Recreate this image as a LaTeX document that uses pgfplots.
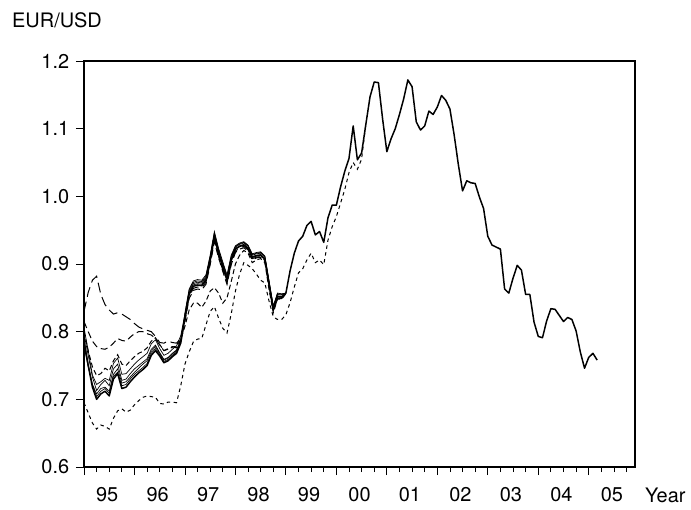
\documentclass[border=0pt]{standalone}
\usepackage{fontspec}
\setmainfont{TeX Gyre Heros}
\usepackage{pgfplots}
\usepackage{pgfplotstable}
\pgfplotsset{compat=1.18}

\pgfplotstableread{
m main
0 0.785
1 0.750
2 0.718
3 0.700
4 0.708
5 0.712
6 0.705
7 0.730
8 0.738
9 0.716
10 0.718
11 0.726
12 0.733
13 0.739
14 0.744
15 0.750
16 0.765
17 0.772
18 0.764
19 0.754
20 0.757
21 0.763
22 0.768
23 0.783
24 0.820
25 0.855
26 0.867
27 0.869
28 0.868
29 0.876
30 0.905
31 0.940
32 0.915
33 0.895
34 0.876
35 0.905
36 0.922
37 0.926
38 0.928
39 0.923
40 0.910
41 0.912
42 0.913
43 0.907
44 0.870
45 0.833
46 0.852
47 0.851
48 0.857
49 0.890
50 0.916
51 0.934
52 0.941
53 0.957
54 0.963
55 0.943
56 0.948
57 0.932
58 0.968
59 0.987
60 0.987
61 1.014
62 1.037
63 1.056
64 1.104
65 1.054
66 1.064
67 1.106
68 1.147
69 1.169
70 1.168
71 1.114
72 1.066
73 1.085
74 1.100
75 1.121
76 1.144
77 1.172
78 1.162
79 1.110
80 1.098
81 1.104
82 1.126
83 1.121
84 1.132
85 1.149
86 1.142
87 1.129
88 1.091
89 1.047
90 1.008
91 1.023
92 1.020
93 1.019
94 0.999
95 0.982
96 0.941
97 0.928
98 0.925
99 0.922
100 0.863
101 0.857
102 0.879
103 0.898
104 0.891
105 0.855
106 0.855
107 0.814
108 0.793
109 0.791
110 0.816
111 0.834
112 0.833
113 0.824
114 0.815
115 0.821
116 0.818
117 0.801
118 0.770
119 0.746
120 0.762
121 0.768
122 0.758
}\tmain

\pgfplotstableread{
m s2 s3 s4 s5 d1 d2 d3
0 0.797 0.806 0.791 0.779 0.830 0.815 0.800
1 0.765 0.772 0.752 0.748 0.858 0.800 0.772
2 0.733 0.736 0.722 0.722 0.876 0.786 0.748
3 0.713 0.722 0.708 0.704 0.882 0.778 0.735
4 0.722 0.726 0.716 0.712 0.855 0.775 0.738
5 0.728 0.731 0.718 0.716 0.840 0.774 0.746
6 0.720 0.728 0.712 0.709 0.832 0.777 0.742
7 0.745 0.753 0.737 0.734 0.826 0.783 0.757
8 0.752 0.761 0.745 0.740 0.828 0.790 0.766
9 0.728 0.737 0.724 0.720 0.826 0.787 0.752
10 0.730 0.738 0.726 0.722 0.822 0.786 0.750
11 0.738 0.745 0.733 0.730 0.818 0.792 0.757
12 0.745 0.752 0.740 0.737 0.812 0.797 0.763
13 0.750 0.758 0.746 0.742 0.807 0.800 0.768
14 0.755 0.763 0.752 0.747 0.804 0.800 0.771
15 0.760 0.768 0.757 0.753 0.802 0.797 0.776
16 0.774 0.782 0.771 0.768 0.800 0.795 0.786
17 0.780 0.788 0.778 0.775 0.793 0.790 0.791
18 0.769 0.775 0.768 0.766 0.784 0.780 0.781
19 0.759 0.765 0.758 0.756 0.783 0.772 0.772
20 0.762 0.768 0.761 0.759 0.786 0.775 0.774
21 0.768 0.774 0.767 0.765 0.784 0.778 0.777
22 0.773 0.779 0.772 0.770 0.783 0.776 0.779
23 0.788 0.794 0.787 0.785 0.790 0.788 0.788
24 0.824 0.826 0.822 0.828 0.818 0.815 0.808
25 0.859 0.861 0.857 0.863 0.852 0.849 0.832
26 0.871 0.873 0.869 0.875 0.864 0.861 0.842
27 0.873 0.875 0.871 0.877 0.866 0.863 0.842
28 0.872 0.874 0.870 0.876 0.865 0.862 0.836
29 0.880 0.882 0.878 0.884 0.873 0.870 0.845
30 0.909 0.911 0.907 0.913 0.902 0.899 0.860
31 0.944 0.946 0.942 0.948 0.936 0.933 0.865
32 0.919 0.921 0.917 0.923 0.911 0.909 0.857
33 0.899 0.901 0.897 0.903 0.891 0.889 0.842
34 0.880 0.882 0.878 0.884 0.872 0.870 0.850
35 0.909 0.911 0.907 0.913 0.901 0.899 0.874
36 0.925 0.926 0.923 0.927 0.919 0.917 0.900
37 0.929 0.930 0.927 0.931 0.924 0.922 0.913
38 0.931 0.932 0.929 0.933 0.926 0.924 0.920
39 0.926 0.927 0.924 0.928 0.921 0.919 0.916
40 0.913 0.914 0.911 0.915 0.908 0.906 0.902
41 0.915 0.916 0.913 0.917 0.910 0.909 0.906
42 0.916 0.917 0.914 0.918 0.911 0.910 0.908
43 0.910 0.911 0.908 0.912 0.905 0.904 0.902
44 0.873 0.874 0.871 0.875 0.868 0.867 0.862
45 0.836 0.837 0.834 0.838 0.831 0.830 0.828
46 0.855 0.856 0.853 0.857 0.850 0.849 0.848
47 0.854 0.855 0.852 0.856 0.850 0.849 0.848
48 0.857 0.857 0.857 0.857 0.857 0.857 0.856
}\tsyn

\pgfplotstableread{
m g
0 0.695
1 0.680
2 0.665
3 0.656
4 0.662
5 0.660
6 0.656
7 0.672
8 0.683
9 0.686
10 0.681
11 0.684
12 0.692
13 0.698
14 0.703
15 0.705
16 0.704
17 0.703
18 0.694
19 0.693
20 0.696
21 0.696
22 0.695
23 0.720
24 0.752
25 0.770
26 0.785
27 0.789
28 0.790
29 0.810
30 0.830
31 0.837
32 0.820
33 0.805
34 0.798
35 0.826
36 0.860
37 0.885
38 0.902
39 0.898
40 0.893
41 0.885
42 0.876
43 0.872
44 0.845
45 0.822
46 0.818
47 0.818
48 0.825
49 0.843
50 0.866
51 0.887
52 0.893
53 0.906
54 0.916
55 0.902
56 0.906
57 0.899
58 0.935
59 0.955
60 0.970
61 0.990
62 1.010
63 1.035
64 1.050
65 1.040
66 1.055
67 1.106
}\tg

\begin{document}
\fontsize{20}{24}\selectfont
\begin{tikzpicture}
\begin{axis}[
  scale only axis, width=551bp, height=406bp,
  xmin=0, xmax=131, ymin=0.6, ymax=1.2,
  axis line style={line width=1.3pt},
  every tick/.style={black, line width=0.8pt},
  tick align=outside,
  xtick pos=bottom, ytick pos=left,
  major tick length=8bp, minor tick length=5bp,
  xtick={0,12,...,120}, xticklabels={},
  minor xtick={3,6,...,129},
  extra x ticks={5.5,17.5,...,125.5},
  extra x tick labels={95,96,97,98,99,00,01,02,03,04,05},
  extra x tick style={major tick length=0pt, tick label style={yshift=-14bp}},
  ytick={0.6,0.7,0.8,0.9,1.0,1.1,1.2},
  yticklabel style={/pgf/number format/.cd, fixed, fixed zerofill, precision=1, assume math mode=true},
  tick label style={font=\fontsize{20}{24}\selectfont},
  clip=true,
]
\addplot[black, line width=1pt, dash pattern=on 3.5pt off 3.5pt] table[x=m,y=g] {\tg};
\addplot[black, line width=1pt, dash pattern=on 10pt off 5pt] table[x=m,y=d1] {\tsyn};
\addplot[black, line width=1pt, dash pattern=on 7pt off 4pt] table[x=m,y=d2] {\tsyn};
\addplot[black, line width=1pt, dash pattern=on 5pt off 3pt] table[x=m,y=d3] {\tsyn};
\addplot[black, line width=0.7pt] table[x=m,y=s2] {\tsyn};
\addplot[black, line width=0.7pt] table[x=m,y=s3] {\tsyn};
\addplot[black, line width=0.7pt] table[x=m,y=s4] {\tsyn};
\addplot[black, line width=0.7pt] table[x=m,y=s5] {\tsyn};
\addplot[black, line width=1.5pt, line join=round] table[x=m,y=main] {\tmain};
\coordinate (sw) at (rel axis cs:0,0);
\coordinate (ne) at (rel axis cs:1,1);
\coordinate (tl) at (rel axis cs:0,1);
\coordinate (br) at (rel axis cs:1,0);
\end{axis}
\path ([xshift=-84bp,yshift=-43bp]sw) rectangle ([xshift=56bp,yshift=61bp]ne);
\node[anchor=west, inner sep=0pt, font=\fontsize{20}{24}\selectfont] at ([xshift=-72bp,yshift=41bp]tl) {EUR/USD};
\node[anchor=west, inner sep=0pt, font=\fontsize{20}{24}\selectfont] at ([xshift=10bp,yshift=-28bp]br) {Year};
\end{tikzpicture}
\end{document}
